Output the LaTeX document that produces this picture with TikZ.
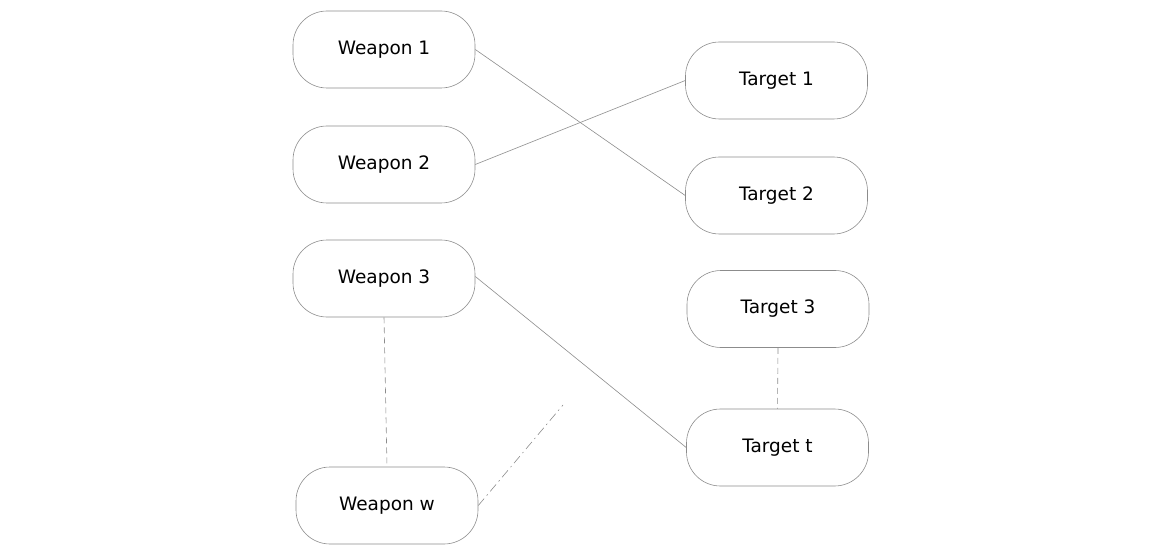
\documentclass[tikz,border=0pt]{standalone}
\usepackage{fontspec}
\setmainfont{DejaVu Sans}
\begin{document}
\begin{tikzpicture}[x=1pt,y=-1pt,
  box/.style={draw=black!45, line width=0.6pt, fill=white, rounded corners=34pt,
    minimum width=182pt, minimum height=77pt, inner sep=0pt,
    font=\fontsize{18.5}{20}\selectfont},
  link/.style={draw=black!45, line width=0.6pt},
  dlink/.style={link, dash pattern=on 6pt off 4pt},
  ddlink/.style={link, dash pattern=on 9pt off 4pt on 1.5pt off 4pt}]
\useasboundingbox (0,0) rectangle (1150,545);
\node[box] (w1) at (384,49.5) {Weapon 1};
\node[box] (w2) at (384,164.5) {Weapon 2};
\node[box] (w3) at (384,278.5) {Weapon 3};
\node[box] (ww) at (387,505.5) {Weapon w};
\node[box] (t1) at (776.5,80.5) {Target 1};
\node[box] (t2) at (776.5,195.5) {Target 2};
\node[box] (t3) at (778,309) {Target 3};
\node[box] (tt) at (777.5,447.5) {Target t};
\coordinate (free) at (563,405);
\draw[link] (w1.east) -- (t2.west);
\draw[link] (w2.east) -- (t1.west);
\draw[link] ([yshift=2pt]w3.east) -- (tt.west);
\draw[dlink] (w3.south) -- (ww.north);
\draw[dlink] (t3.south) -- (tt.north);
\draw[ddlink] (ww.east) -- (free);
\end{tikzpicture}
\end{document}
